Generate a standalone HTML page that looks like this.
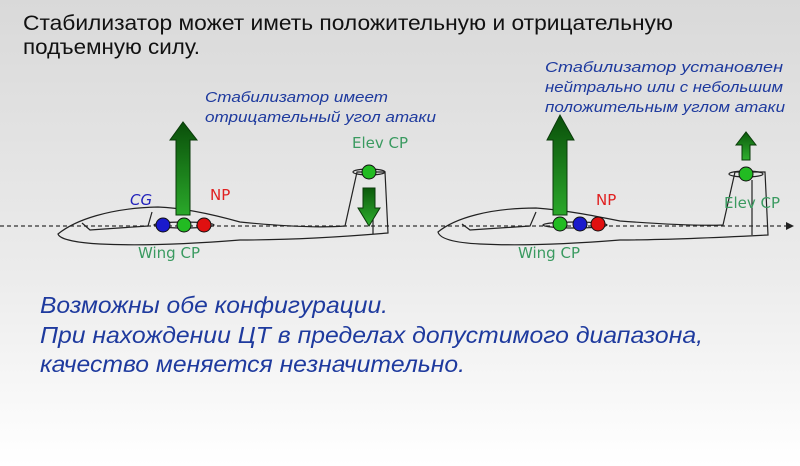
<!DOCTYPE html>
<html><head><meta charset="utf-8"><style>
html,body{margin:0;padding:0;width:800px;height:466px;overflow:hidden}
</style></head><body>
<svg width="800" height="466" viewBox="0 0 800 466" xmlns="http://www.w3.org/2000/svg">
<defs>
<linearGradient id="bg" x1="0" y1="0" x2="0" y2="1">
<stop offset="0" stop-color="#d9d9d9"/><stop offset="0.6" stop-color="#ececec"/><stop offset="1" stop-color="#ffffff"/>
</linearGradient>
<linearGradient id="ar" x1="0" y1="0" x2="0" y2="1">
<stop offset="0" stop-color="#0a4f0a"/><stop offset="1" stop-color="#2aa82a"/>
</linearGradient>
<linearGradient id="ard" x1="0" y1="0" x2="0" y2="1">
<stop offset="0" stop-color="#0b5a0b"/><stop offset="1" stop-color="#2fb02f"/>
</linearGradient>
</defs>
<rect width="800" height="466" fill="url(#bg)"/>
<g style="font-family:'Liberation Sans',sans-serif">
<text x="23" y="30" font-size="21" fill="#111" textLength="650" lengthAdjust="spacingAndGlyphs">Стабилизатор может иметь положительную и отрицательную</text>
<text x="23" y="54" font-size="21" fill="#111" textLength="177" lengthAdjust="spacingAndGlyphs">подъемную силу.</text>
<g font-style="italic" fill="#1e3a9e" font-size="15">
<text x="205" y="102" textLength="183" lengthAdjust="spacingAndGlyphs">Стабилизатор имеет</text>
<text x="205" y="122" textLength="231" lengthAdjust="spacingAndGlyphs">отрицательный угол атаки</text>
<text x="545" y="72" textLength="238" lengthAdjust="spacingAndGlyphs">Стабилизатор установлен</text>
<text x="545" y="92" textLength="238" lengthAdjust="spacingAndGlyphs">нейтрально или с небольшим</text>
<text x="545" y="112" textLength="240" lengthAdjust="spacingAndGlyphs">положительным углом атаки</text>
</g>
<g font-style="italic" fill="#1e3a9e" font-size="23">
<text x="40" y="313" textLength="348" lengthAdjust="spacingAndGlyphs">Возможны обе конфигурации.</text>
<text x="40" y="343" textLength="663" lengthAdjust="spacingAndGlyphs">При нахождении ЦТ в пределах допустимого диапазона,</text>
<text x="40" y="372" textLength="425" lengthAdjust="spacingAndGlyphs">качество меняется незначительно.</text>
</g>
</g>
<line x1="0" y1="226" x2="788" y2="226" stroke="#333" stroke-width="1.3" stroke-dasharray="4,3"/>
<polygon points="794,226 786,222 786,230" fill="#222"/>
<!-- left glider -->
<g fill="none" stroke="#222" stroke-width="1.2">
<path d="M58,234 C75,220 110,208 158,207 C185,208 215,215 240,222 C280,226 320,228 345,226 L357,172 L385,172 L388,233 C330,238 280,240 240,240 C190,244 140,246 100,244 C80,243 60,240 58,234 Z"/>
<path d="M82,223 L90,230 L148,226 L152,212"/>
<ellipse cx="369" cy="172" rx="16" ry="3"/>
<line x1="373" y1="189" x2="373" y2="234"/>
<ellipse cx="184" cy="225" rx="30" ry="3"/>
</g>
<polygon points="176,215 176,140 170,140 183,122 197,140 190,140 190,215" fill="url(#ar)" stroke="#0a3a0a" stroke-width="1"/>
<polygon points="363,188 375,188 375,208 380,208 369,226 358,208 363,208" fill="url(#ard)" stroke="#0a3a0a" stroke-width="1"/>
<circle cx="163" cy="225" r="7" fill="#1a1acc" stroke="#111"/>
<circle cx="184" cy="225" r="7" fill="#22bb22" stroke="#111"/>
<circle cx="204" cy="225" r="7" fill="#e01010" stroke="#111"/>
<circle cx="369" cy="172" r="7" fill="#22bb22" stroke="#111"/>
<g font-family="DejaVu Sans, sans-serif" font-size="15">
<text x="130" y="205" fill="#2222bb" font-style="italic">CG</text>
<text x="210" y="200" fill="#e02020">NP</text>
<text x="138" y="258" fill="#3a9a60">Wing CP</text>
<text x="352" y="148" fill="#3a9a60">Elev CP</text>
</g>
<!-- right glider -->
<g fill="none" stroke="#222" stroke-width="1.2">
<path d="M438,232 C455,218 490,208 536,208 C565,210 595,216 620,221 C660,224 700,226 723,225 L735,172 L765,172 L768,235 C710,238 660,240 620,240 C570,244 520,246 480,244 C460,243 440,240 438,232 Z"/>
<path d="M462,224 L470,230 L530,226 L536,212"/>
<line x1="752" y1="180" x2="752" y2="235"/>
<ellipse cx="746" cy="174" rx="17" ry="3"/>
<ellipse cx="575" cy="225" rx="32" ry="3"/>
</g>
<polygon points="553,215 553,140 547,140 560,115 574,140 567,140 567,215" fill="url(#ar)" stroke="#0a3a0a" stroke-width="1"/>
<polygon points="742,160 750,160 750,145 756,145 746,132 736,145 742,145" fill="url(#ard)" stroke="#0a3a0a" stroke-width="1"/>
<circle cx="560" cy="224" r="7" fill="#22bb22" stroke="#111"/>
<circle cx="580" cy="224" r="7" fill="#1a1acc" stroke="#111"/>
<circle cx="598" cy="224" r="7" fill="#e01010" stroke="#111"/>
<circle cx="746" cy="174" r="7" fill="#22bb22" stroke="#111"/>
<g font-family="DejaVu Sans, sans-serif" font-size="15">
<text x="596" y="205" fill="#e02020">NP</text>
<text x="518" y="258" fill="#3a9a60">Wing CP</text>
<text x="724" y="208" fill="#3a9a60">Elev CP</text>
</g>
</svg>
</body></html>
